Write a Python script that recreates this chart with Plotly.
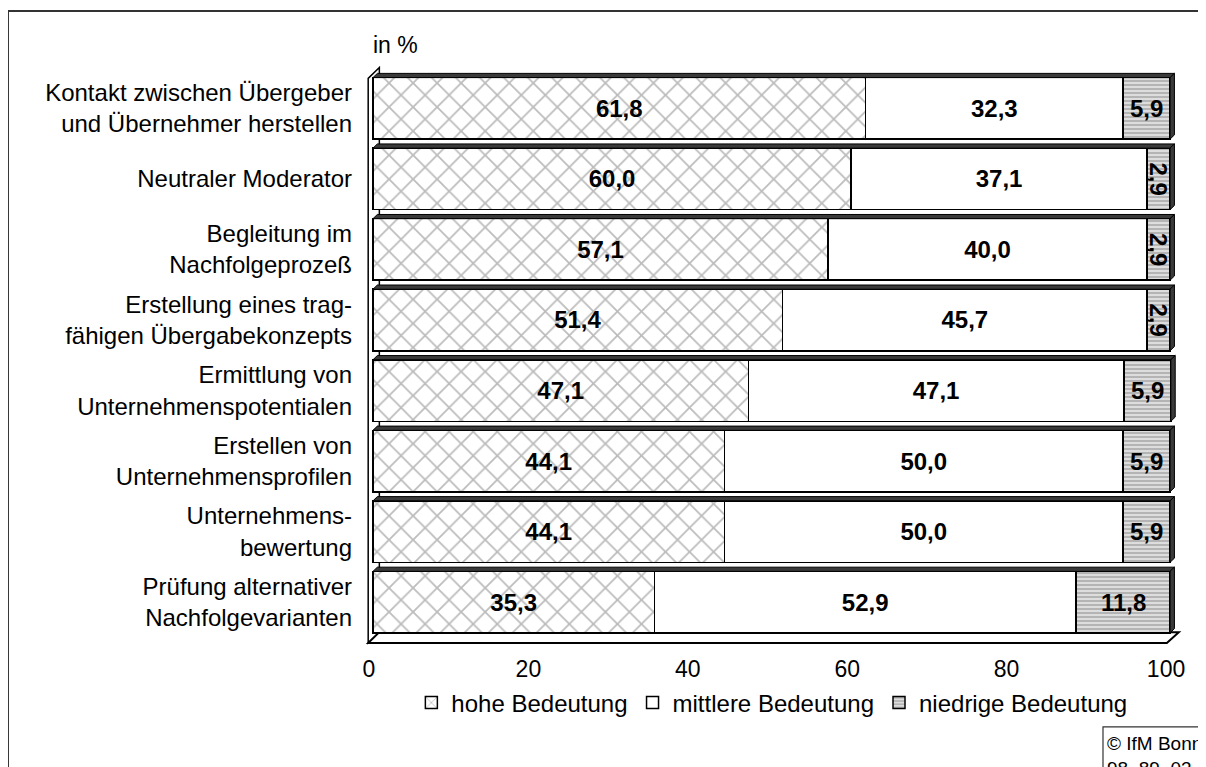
import plotly.graph_objects as go

categories = [
    "Kontakt zwischen Übergeber<br>und Übernehmer herstellen",
    "Neutraler Moderator",
    "Begleitung im<br>Nachfolgeprozeß",
    "Erstellung eines trag-<br>fähigen Übergabekonzepts",
    "Ermittlung von<br>Unternehmenspotentialen",
    "Erstellen von<br>Unternehmensprofilen",
    "Unternehmens-<br>bewertung",
    "Prüfung alternativer<br>Nachfolgevarianten",
]
hohe = [61.8, 60.0, 57.1, 51.4, 47.1, 44.1, 44.1, 35.3]
mittlere = [32.3, 37.1, 40.0, 45.7, 47.1, 50.0, 50.0, 52.9]
niedrige = [5.9, 2.9, 2.9, 2.9, 5.9, 5.9, 5.9, 11.8]
series_names = ["hohe Bedeutung", "mittlere Bedeutung", "niedrige Bedeutung"]
x_ticks = [0, 20, 40, 60, 80, 100]

FONT = "Arial, Liberation Sans, sans-serif"
idx = list(range(len(categories)))
BAR_W = 0.872

fig = go.Figure()
fig.add_trace(go.Bar(
    y=idx, x=hohe, orientation="h", name=series_names[0], width=BAR_W,
    marker=dict(color="white", line=dict(color="black", width=1.5),
                pattern=dict(shape="x", fgcolor="#7a7a7a", bgcolor="white",
                             size=17, solidity=0.2)),
    text=hohe, texttemplate="<b>%{x:.1f}</b>", textposition="inside",
    insidetextanchor="middle", textangle=0,
    textfont=dict(family=FONT, size=24, color="black"),
))
fig.add_trace(go.Bar(
    y=idx, x=mittlere, orientation="h", name=series_names[1], width=BAR_W,
    marker=dict(color="white", line=dict(color="black", width=1.5)),
    text=mittlere, texttemplate="<b>%{x:.1f}</b>", textposition="inside",
    insidetextanchor="middle", textangle=0,
    textfont=dict(family=FONT, size=24, color="black"),
))
fig.add_trace(go.Bar(
    y=idx, x=niedrige, orientation="h", name=series_names[2], width=BAR_W,
    marker=dict(color="#dcdcdc", line=dict(color="black", width=1.5),
                pattern=dict(shape="-", fgcolor="#858585", bgcolor="#e2e2e2",
                             size=4, solidity=0.55)),
))

annotations = []
for i, (h, m, n) in enumerate(zip(hohe, mittlere, niedrige)):
    annotations.append(dict(
        x=h + m + n / 2, y=i, xref="x", yref="y", showarrow=False,
        text="<b>" + f"{n:.1f}".replace(".", ",") + "</b>",
        textangle=90 if n < 4 else 0,
        font=dict(family=FONT, size=24, color="black"),
    ))

shapes = []
# back wall and floor (3D frame)
shapes.append(dict(type="path", xref="x", yref="y", layer="below",
                   path="M -0.6,7.58 L -0.6,-0.425 L 0.8,-0.58 L 0.8,7.425 Z",
                   fillcolor="white", line=dict(color="black", width=1.5)))
shapes.append(dict(type="path", xref="x", yref="y", layer="below",
                   path="M -0.6,7.58 L 99.6,7.58 L 101.1,7.425 L 0.8,7.425 Z",
                   fillcolor="white", line=dict(color="black", width=2)))
# depth faces of bars
dx, dy = 0.55, 0.06
for i, (h, m, n) in enumerate(zip(hohe, mittlere, niedrige)):
    tot = h + m + n
    top = i - BAR_W / 2
    bot = i + BAR_W / 2
    shapes.append(dict(type="path", xref="x", yref="y", layer="above",
                       path=f"M 0,{top} L {dx},{top-dy} L {tot+dx},{top-dy} L {tot},{top} Z",
                       fillcolor="#3a3a3a", line=dict(color="black", width=1)))
    shapes.append(dict(type="path", xref="x", yref="y", layer="above",
                       path=f"M {tot},{top} L {tot+dx},{top-dy} L {tot+dx},{bot-dy} L {tot},{bot} Z",
                       fillcolor="#3a3a3a", line=dict(color="black", width=1)))

# outer frame
shapes.append(dict(type="rect", xref="paper", yref="paper",
                   x0=-0.437, y0=-0.3, x1=1.1, y1=1.0815,
                   line=dict(color="#333333", width=2), fillcolor="rgba(0,0,0,0)"))
# copyright box
shapes.append(dict(type="rect", xref="paper", yref="paper",
                   x0=0.9033, y0=-0.3, x1=1.1, y1=-0.134,
                   line=dict(color="#333333", width=1.2), fillcolor="white"))

annotations.append(dict(x=0.0073, y=1.0238, xref="paper", yref="paper",
                        xanchor="left", yanchor="middle", showarrow=False,
                        text="in %", font=dict(family=FONT, size=23, color="black")))
annotations.append(dict(x=0.906, y=-0.141, xref="paper", yref="paper",
                        xanchor="left", yanchor="top", align="left", showarrow=False,
                        text="© IfM Bonn<br>98  89  03",
                        font=dict(family=FONT, size=19, color="black")))

fig.update_layout(
    width=1206, height=767,
    margin=dict(l=357, r=32, t=51, b=127),
    paper_bgcolor="white", plot_bgcolor="white",
    barmode="stack", separators=",.",
    font=dict(family=FONT, size=24, color="black"),
    shapes=shapes, annotations=annotations,
    legend=dict(orientation="h", x=0.498, y=-0.0934, xanchor="center", yanchor="middle",
                font=dict(family=FONT, size=24, color="black"), itemwidth=30,
                traceorder="normal", bgcolor="rgba(0,0,0,0)"),
    showlegend=True,
)
fig.update_xaxes(range=[-1, 101.5], tickvals=x_ticks, ticktext=[str(t) for t in x_ticks],
                 showgrid=False, zeroline=False, showline=False, ticks="",
                 ticklabelstandoff=5, ticklabelshift=-4,
                 tickfont=dict(family=FONT, size=23, color="black"))
fig.update_yaxes(range=[7.65, -0.7], tickvals=idx, ticktext=categories,
                 showgrid=False, zeroline=False, showline=False, ticks="",
                 ticklabelstandoff=12, tickfont=dict(family=FONT, size=24, color="black"))

fig.write_html("out.html")
